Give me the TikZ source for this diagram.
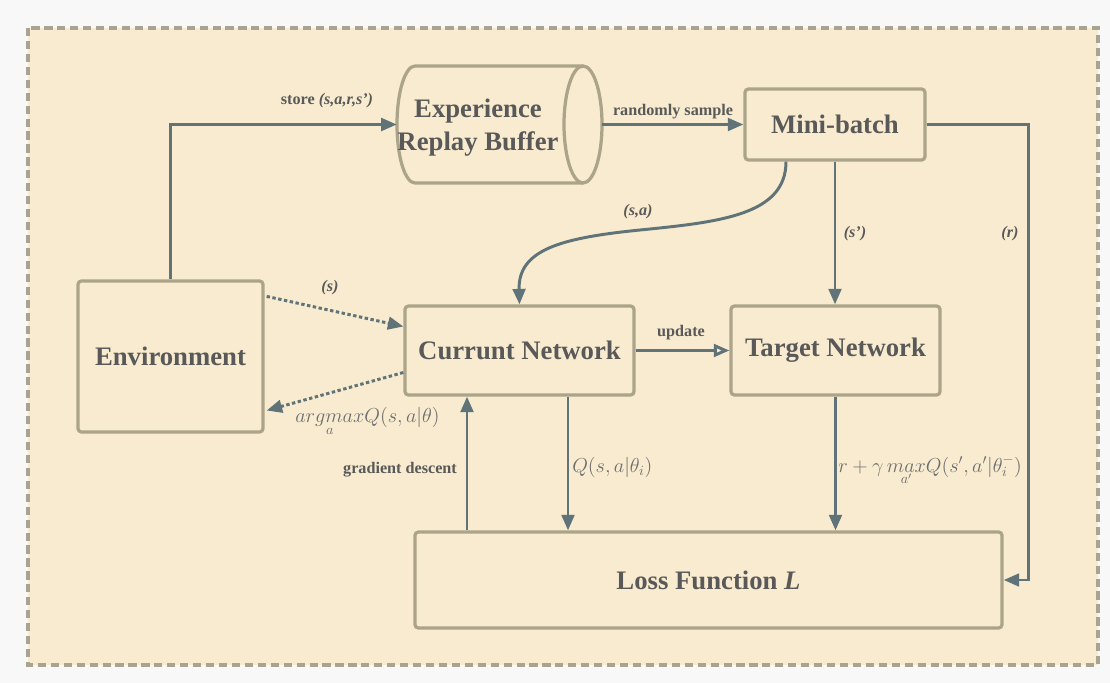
\documentclass[tikz,border=0pt]{standalone}
\usepackage{fontspec}
\setmainfont{Liberation Serif}
\usetikzlibrary{arrows.meta,calc}

\definecolor{pagebg}{HTML}{F8F8F8}
\definecolor{panel}{HTML}{F8EBCF}
\definecolor{panelline}{HTML}{A9A491}
\definecolor{boxline}{HTML}{ABA48B}
\definecolor{flow}{HTML}{5F7378}
\definecolor{ink}{HTML}{595959}
\definecolor{mathink}{HTML}{6E6E6E}

\begin{document}
\begin{tikzpicture}[x=0.025cm, y=-0.025cm,
  box/.style={draw=boxline, line width=2.3pt, rounded corners=2.5pt, fill=panel,
    font=\fontsize{19}{24}\selectfont\bfseries, text=ink, inner sep=0pt},
  bigtext/.style={font=\fontsize{19}{23.5}\selectfont\bfseries, text=ink, inner sep=0pt},
  flowarrow/.style={draw=flow, line width=2.1pt, -{Triangle[length=11pt, width=9pt]}},
  openarrow/.style={draw=flow, line width=2.1pt, -{Triangle[open, length=11pt, width=9pt, fill=panel]}},
  dotarrow/.style={flowarrow, dash pattern=on 2.4pt off 1.8pt},
  lbl/.style={font=\fontsize{11.5}{13}\selectfont\bfseries, text=ink, inner sep=0pt},
  ilbl/.style={font=\fontsize{11.5}{13}\selectfont\bfseries\itshape, text=ink, inner sep=0pt},
  mlbl/.style={font=\fontsize{14.5}{16}\selectfont, text=mathink, inner sep=0pt}]

  % page and dashed panel
  \useasboundingbox (0,0) rectangle (1110,683);
  \fill[pagebg] (0,0) rectangle (1110,683);
  \draw[panelline, line width=2.2pt, dash pattern=on 5.8pt off 3.4pt, fill=panel]
    (28,28) rectangle (1098,665);

  % replay buffer drawn as a horizontal cylinder
  \draw[boxline, line width=2.3pt] (583,66) -- (415,66)
    arc[start angle=270, end angle=90, x radius=18, y radius=58.5] -- (583,183);
  \draw[boxline, line width=2.3pt] (583,124.5) ellipse [x radius=19, y radius=58.5];
  \node[minimum width=5.125cm, minimum height=2.925cm, inner sep=0pt] (buf) at (499.5,124.5) {};
  \node[bigtext, align=center] (buftext) at (478,128) {Experience\\Replay Buffer};

  % blocks
  \node[box, minimum width=4.625cm, minimum height=3.775cm] (env) at (170.5,356.5) {Environment};
  \node[box, minimum width=4.5cm, minimum height=1.775cm] (mb) at (835,124.5) {Mini-batch};
  \node[box, minimum width=5.725cm, minimum height=2.225cm] (cn) at (519.5,350.5) {Currunt Network};
  \node[box, minimum width=5.225cm, minimum height=2.225cm] (tn) at (835.5,350.5) {Target Network};
  \node[box, minimum width=14.675cm, minimum height=2.4cm] (loss) at (708.5,580) {Loss Function \textit{L}};

  % attachment points along block edges
  \coordinate (sa) at ($(mb.south)+(-49,0)$);
  \coordinate (qtop) at ($(cn.south)+(48.5,0)$);
  \coordinate (gd) at ($(cn.south)+(-52.5,0)$);

  % connectors
  \draw[flowarrow] (env.north) |- (buf.west);
  \draw[flowarrow] (buf.east) -- (mb.west);
  \draw[flowarrow] (sa) .. controls (786,215) and (720,222) .. (640,230)
                        .. controls (560,238) and (518,250) .. (cn.north);
  \draw[flowarrow] (mb.south) -- (mb.south |- tn.north);
  \draw[flowarrow] (mb.east) -- ++(102,0) |- (loss.east);
  \draw[dotarrow] ($(env.north east)+(2,17)$) -- ($(cn.west)+(0,-24)$);
  \draw[dotarrow] ($(cn.west)+(0,22)$) -- ($(env.east)+(2,54)$);
  \draw[openarrow] (cn.east) -- (tn.west);
  \draw[flowarrow] (qtop) -- (qtop |- loss.north);
  \draw[flowarrow] (tn.south) -- (tn.south |- loss.north);
  \draw[flowarrow] (gd |- loss.north) -- (gd);

  % labels
  \node[lbl] (storelbl) at (327,101) {store \textit{(s,a,r,s')}};
  \node[lbl] (samplelbl) at (673,112) {randomly sample};
  \node[ilbl] (salbl) at (638,212) {(s,a)};
  \node[ilbl] (splbl) at (855,234) {(s')};
  \node[ilbl] (rlbl) at (1010,234) {(r)};
  \node[ilbl] (slbl) at (330,288) {(s)};
  \node[lbl] (updlbl) at (681,333) {update};
  \node[lbl] (gdlbl) at (400,470) {gradient descent};
  \node[mlbl, anchor=base west] (argmaxlbl) at (295,422) {$\mathop{argmax}\limits_{a}\!Q(s,a|\theta)$};
  \node[mlbl, anchor=base west] (qlbl) at (572,472) {$Q(s,a|\theta_i)$};
  \node[mlbl, anchor=base west] (tgtlbl) at (838,472) {$r+\gamma\mathop{max}\limits_{a'}\!Q(s',a'|\theta_i^-)$};
\end{tikzpicture}
\end{document}
